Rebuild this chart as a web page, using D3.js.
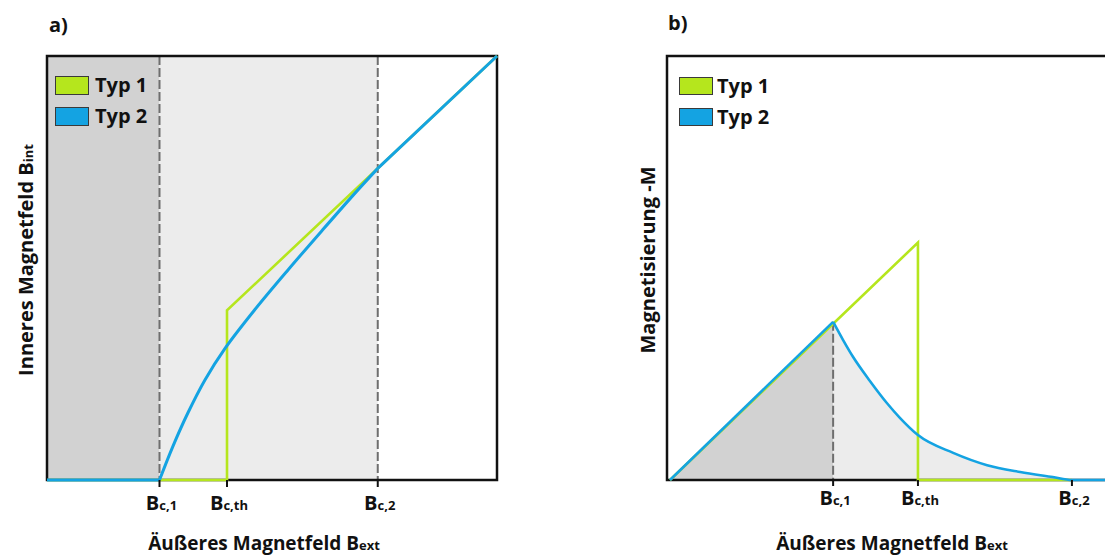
<!DOCTYPE html>
<html>
<head>
<meta charset="utf-8">
<script src="https://cdn.jsdelivr.net/npm/d3@7"></script>
<style>
  html, body { margin: 0; padding: 0; background: #fff; }
  svg { display: block; font-family: "Open Sans", "DejaVu Sans", sans-serif; font-weight: 700; }
</style>
</head>
<body>
<svg id="chart" width="1105" height="556"></svg>
<script>
// ---- data ----
// Panel a: internal field vs. external field
const aTickValues = [2.5, 4.0, 7.35];
const tickSubs = ["c,1", "c,th", "c,2"];
const typ1ABext = [0, 4.0, 4.0, 10];
const typ1ABint = [0, 0, 4.0, 10];
const typ2ABext = [0, 2.5];
const typ2ABint = [0, 0];
const typ2ACurveBext = [2.5, 2.8, 3.13, 3.51, 3.96, 4.62, 5.36, 6.11, 6.84, 7.35];
const typ2ACurveBint = [0, 0.8, 1.58, 2.36, 3.11, 4.02, 4.96, 5.88, 6.76, 7.35];
const typ2ALineBext = [7.35, 10];
const typ2ALineBint = [7.35, 10];

// Panel b: magnetisation vs. external field
const bTickValues = [3.75, 5.7, 9.24];
const typ1BBext = [0, 5.7, 5.7, 9.24];
const typ1BM = [0, 5.6, 0, 0];
const typ2BRiseBext = [0, 3.75];
const typ2BRiseM = [0, 3.73];
const typ2BDecayBext = [3.75, 3.98, 4.21, 4.60, 4.99, 5.29, 5.70, 6.51, 7.29, 8.05, 8.80, 9.24, 10];
const typ2BDecayM = [3.73, 3.30, 2.90, 2.33, 1.81, 1.46, 1.06, 0.64, 0.35, 0.19, 0.07, 0.0, 0];

const legendLabels = ["Typ 1", "Typ 2"];

// ---- style ----
const GREEN = "#b5e61d";
const BLUE = "#14a3e2";
const DARK_FILL = "#d2d2d2";
const LIGHT_FILL = "#ececec";
const DASH = "#6e6e6e";

const svg = d3.select("#chart");
const zip = (xs, ys) => xs.map((x, i) => [x, ys[i]]);

// ---- scales ----
const xa = d3.scaleLinear().domain([0, 10]).range([47, 497]);
const ya = d3.scaleLinear().domain([0, 10]).range([480, 56]);
const xb = d3.scaleLinear().domain([0, 10]).range([670, 1105]);
const yb = d3.scaleLinear().domain([0, 10]).range([480, 56]);

function lineGen(x, y, curve) {
  return d3.line().x(d => x(d[0])).y(d => y(d[1])).curve(curve || d3.curveLinear);
}

function subText(g, x, y, main, sub, mainSize, subSize, anchor) {
  const t = g.append("text").attr("x", x).attr("y", y)
    .attr("text-anchor", anchor || "middle").attr("fill", "#111");
  t.append("tspan").attr("font-size", mainSize).text(main);
  t.append("tspan").attr("font-size", subSize).text(sub);
  return t;
}

// ================= Panel a =================
const ga = svg.append("g");

// shaded field regions
ga.append("rect").attr("x", xa(0)).attr("y", ya(10))
  .attr("width", xa(aTickValues[0]) - xa(0)).attr("height", ya(0) - ya(10)).attr("fill", DARK_FILL);
ga.append("rect").attr("x", xa(aTickValues[0])).attr("y", ya(10))
  .attr("width", xa(aTickValues[2]) - xa(aTickValues[0])).attr("height", ya(0) - ya(10)).attr("fill", LIGHT_FILL);

// dashed critical-field markers
[aTickValues[0], aTickValues[2]].forEach(v => {
  ga.append("line").attr("x1", xa(v)).attr("x2", xa(v)).attr("y1", ya(10)).attr("y2", ya(0))
    .attr("stroke", DASH).attr("stroke-width", 2).attr("stroke-dasharray", "9,3");
});

// frame
ga.append("rect").attr("x", xa(0)).attr("y", ya(10))
  .attr("width", xa(10) - xa(0)).attr("height", ya(0) - ya(10))
  .attr("fill", "none").attr("stroke", "#111").attr("stroke-width", 2.5);

// curves
ga.append("path").datum(zip(typ1ABext, typ1ABint)).attr("d", lineGen(xa, ya))
  .attr("fill", "none").attr("stroke", GREEN).attr("stroke-width", 2.6);
ga.append("path").datum(zip(typ2ABext, typ2ABint)).attr("d", lineGen(xa, ya))
  .attr("fill", "none").attr("stroke", BLUE).attr("stroke-width", 3);
ga.append("path").datum(zip(typ2ACurveBext, typ2ACurveBint)).attr("d", lineGen(xa, ya, d3.curveCatmullRom.alpha(0.5)))
  .attr("fill", "none").attr("stroke", BLUE).attr("stroke-width", 3);
ga.append("path").datum(zip(typ2ALineBext, typ2ALineBint)).attr("d", lineGen(xa, ya))
  .attr("fill", "none").attr("stroke", BLUE).attr("stroke-width", 3);

// ticks and labels
aTickValues.forEach((v, i) => {
  ga.append("line").attr("x1", xa(v)).attr("x2", xa(v)).attr("y1", 480).attr("y2", 487)
    .attr("stroke", "#111").attr("stroke-width", 2);
  subText(ga, xa(v) + 2, 510, "B", tickSubs[i], 20, 13);
});

// axis titles
subText(ga, 264, 550, "Äußeres Magnetfeld B", "ext", 19, 13);
const yta = ga.append("text").attr("transform", "translate(33,260) rotate(-90)")
  .attr("text-anchor", "middle").attr("fill", "#111");
yta.append("tspan").attr("font-size", 20).text("Inneres Magnetfeld B");
yta.append("tspan").attr("font-size", 13).text("int");

ga.append("text").attr("x", 49).attr("y", 32).attr("font-size", 20).attr("fill", "#111").text("a)");

// legend
[GREEN, BLUE].forEach((c, i) => {
  ga.append("rect").attr("x", 55.5).attr("y", 76.5 + i * 31).attr("width", 33).attr("height", 18)
    .attr("fill", c).attr("stroke", "#3a3a3a").attr("stroke-width", 1);
  ga.append("text").attr("x", 95).attr("y", 92 + i * 31).attr("font-size", 20).attr("fill", "#111")
    .text(legendLabels[i]);
});

// ================= Panel b =================
const gb = svg.append("g");

// shaded areas under the type 2 curve
const areaGen = (curve) => d3.area().x(d => xb(d[0])).y0(yb(0)).y1(d => yb(d[1])).curve(curve || d3.curveLinear);
gb.append("path").datum(zip(typ2BRiseBext, typ2BRiseM)).attr("d", areaGen()).attr("fill", DARK_FILL);
gb.append("path").datum(zip(typ2BDecayBext, typ2BDecayM)).attr("d", areaGen(d3.curveMonotoneX)).attr("fill", LIGHT_FILL);

// dashed marker at the peak
gb.append("line").attr("x1", xb(bTickValues[0])).attr("x2", xb(bTickValues[0]))
  .attr("y1", yb(typ2BRiseM[1])).attr("y2", yb(0))
  .attr("stroke", DASH).attr("stroke-width", 2).attr("stroke-dasharray", "9,3");

// axes (left, top, bottom)
gb.append("path")
  .attr("d", `M1105,${yb(10)} H${xb(0) - 3} V${yb(0)} H1105`)
  .attr("fill", "none").attr("stroke", "#111").attr("stroke-width", 2.5);

// curves
gb.append("path").datum(zip(typ1BBext, typ1BM)).attr("d", lineGen(xb, yb))
  .attr("fill", "none").attr("stroke", GREEN).attr("stroke-width", 2.6);
gb.append("path").datum(zip(typ2BRiseBext, typ2BRiseM)).attr("d", lineGen(xb, yb))
  .attr("fill", "none").attr("stroke", BLUE).attr("stroke-width", 2.6);
gb.append("path").datum(zip(typ2BDecayBext, typ2BDecayM)).attr("d", lineGen(xb, yb, d3.curveMonotoneX))
  .attr("fill", "none").attr("stroke", BLUE).attr("stroke-width", 2.6);

// ticks and labels
bTickValues.forEach((v, i) => {
  gb.append("line").attr("x1", xb(v)).attr("x2", xb(v)).attr("y1", 480).attr("y2", 486)
    .attr("stroke", "#111").attr("stroke-width", 2);
  subText(gb, xb(v) + 2, 505, "B", tickSubs[i], 20, 13);
});

subText(gb, 892, 550, "Äußeres Magnetfeld B", "ext", 19, 13);
gb.append("text").attr("transform", "translate(655,260) rotate(-90)")
  .attr("text-anchor", "middle").attr("font-size", 20).attr("fill", "#111").text("Magnetisierung -M");

gb.append("text").attr("x", 668).attr("y", 30).attr("font-size", 20).attr("fill", "#111").text("b)");

[GREEN, BLUE].forEach((c, i) => {
  gb.append("rect").attr("x", 679.5).attr("y", 77.5 + i * 31).attr("width", 33).attr("height", 17)
    .attr("fill", c).attr("stroke", "#3a3a3a").attr("stroke-width", 1);
  gb.append("text").attr("x", 717).attr("y", 93 + i * 31).attr("font-size", 20).attr("fill", "#111")
    .text(legendLabels[i]);
});
</script>
</body>
</html>
